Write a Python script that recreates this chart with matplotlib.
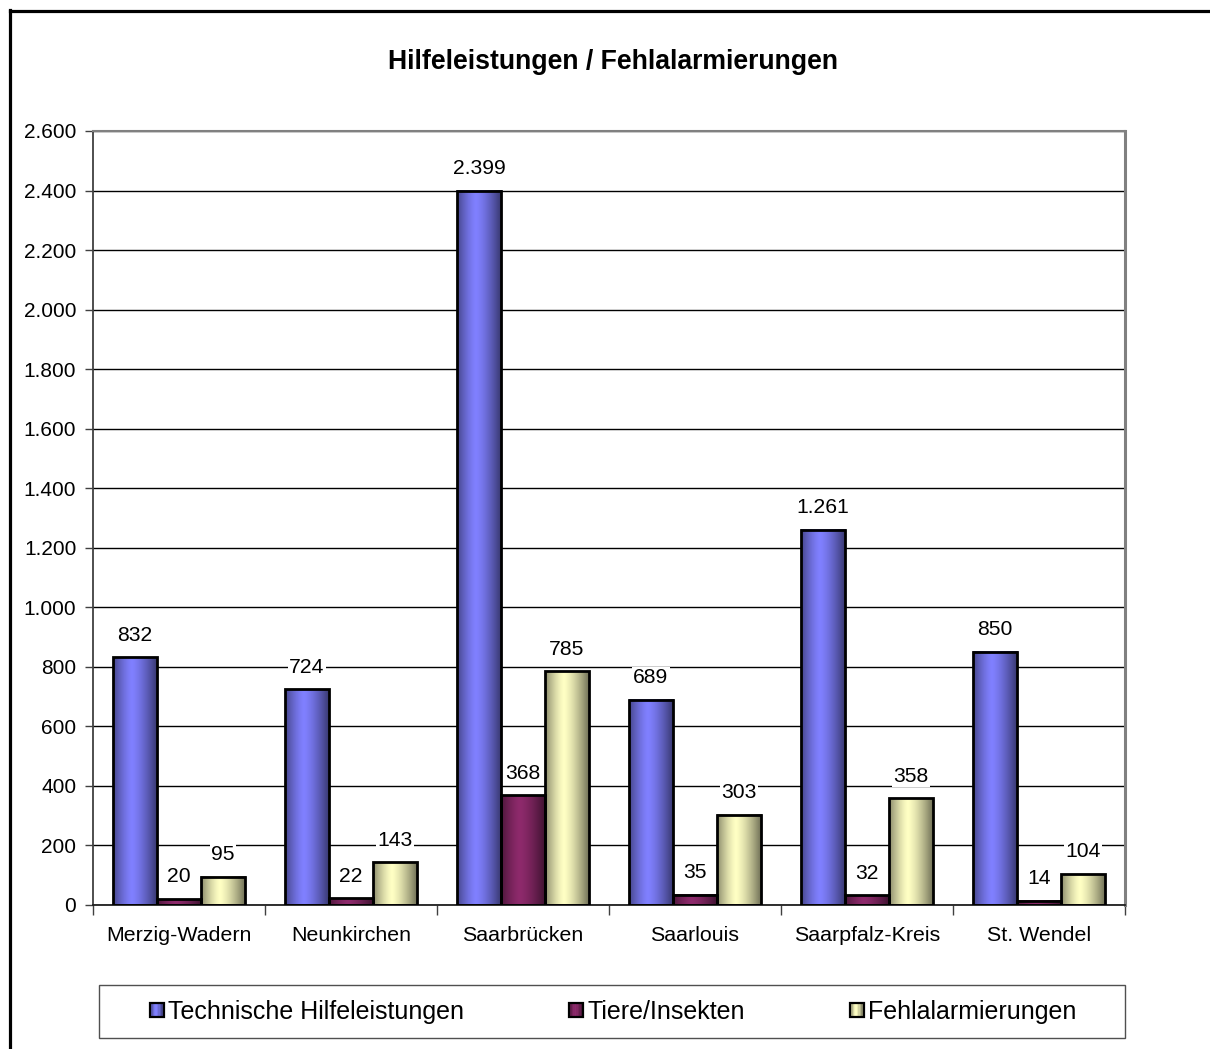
import numpy as np
import matplotlib
matplotlib.use("Agg")
import matplotlib.pyplot as plt
from matplotlib.patches import Rectangle, Patch
from matplotlib.lines import Line2D
from matplotlib.legend_handler import HandlerBase
from matplotlib.ticker import FuncFormatter

plt.rcParams['font.family'] = ['Liberation Sans', 'DejaVu Sans']

# ---- data -------------------------------------------------------------
districts = ['Merzig-Wadern', 'Neunkirchen', 'Saarbrücken', 'Saarlouis',
             'Saarpfalz-Kreis', 'St. Wendel']
technische = [832, 724, 2399, 689, 1261, 850]
tiere = [20, 22, 368, 35, 32, 14]
fehlalarm = [95, 143, 785, 303, 358, 104]
series_names = ['Technische Hilfeleistungen', 'Tiere/Insekten', 'Fehlalarmierungen']
series_colors = ['#8080FF', '#8E2A6C', '#FFFFC4']
y_ticks = list(range(0, 2601, 200))
title = 'Hilfeleistungen / Fehlalarmierungen'

series_values = [technische, tiere, fehlalarm]


def de_thousands(v, pos=None):
    return f'{int(v):,}'.replace(',', '.')


def shade_profile(n=64, peak=0.42, left_edge=0.55, right_edge=0.42):
    t = np.linspace(0, 1, n)
    f = np.empty(n)
    lm = t <= peak
    f[lm] = 1 - (1 - left_edge) * ((peak - t[lm]) / peak) ** 1.4
    f[~lm] = 1 - (1 - right_edge) * ((t[~lm] - peak) / (1 - peak)) ** 1.4
    return f


def gradient_strip(color):
    rgb = np.array(matplotlib.colors.to_rgb(color))
    f = shade_profile()
    return (f[:, None] * rgb[None, :])[None, :, :]


class GradientSquare(HandlerBase):
    def create_artists(self, legend, orig_handle, xdescent, ydescent,
                       width, height, fontsize, trans):
        s = min(width, height)
        x0 = -xdescent + (width - s) / 2
        y0 = -ydescent + (height - s) / 2
        rgb = np.array(matplotlib.colors.to_rgb(orig_handle.get_facecolor()))
        f = shade_profile(n=10)
        arts = []
        for i, fi in enumerate(f):
            r = Rectangle((x0 + i * s / len(f), y0), s / len(f) + 0.3, s,
                          facecolor=np.clip(fi * rgb, 0, 1), edgecolor='none',
                          transform=trans)
            arts.append(r)
        arts.append(Rectangle((x0, y0), s, s, facecolor='none',
                              edgecolor='black', lw=1.6, transform=trans))
        return arts


W, H = 1210, 1049
fig = plt.figure(figsize=(W / 100, H / 100), dpi=100)
fig.patch.set_facecolor('white')

ax = fig.add_axes([93 / W, 1 - 905 / H, (1125 - 93) / W, (905 - 131) / H])

n = len(districts)
x = np.arange(n)
bar_w = 0.256
offsets = [-bar_w, 0, bar_w]

for vals, off, col in zip(series_values, offsets, series_colors):
    bars = ax.bar(x + off, vals, width=bar_w, facecolor='none',
                  edgecolor='black', linewidth=2.0, zorder=3)
    strip = gradient_strip(col)
    for rect, v in zip(bars, vals):
        x0 = rect.get_x()
        ax.imshow(strip, extent=(x0, x0 + rect.get_width(), 0, v),
                  aspect='auto', interpolation='bilinear', zorder=2)
        ax.annotate(de_thousands(v), (rect.get_x() + rect.get_width() / 2, v),
                    xytext=(0, 16), textcoords='offset points',
                    ha='center', va='center', fontsize=15.2, color='black',
                    zorder=4,
                    bbox=dict(boxstyle='square,pad=0.05', fc='white', ec='none'))

ax.set_xlim(-0.5, n - 0.5)
ax.set_ylim(0, 2600)
ax.set_yticks(y_ticks)
ax.yaxis.set_major_formatter(FuncFormatter(de_thousands))
ax.set_xticks(x)
ax.set_xticklabels(districts)
ax.set_xticks(np.arange(-0.5, n, 1.0), minor=True)

ax.set_axisbelow(True)
ax.yaxis.grid(True, color='black', linewidth=1.0)
ax.xaxis.grid(False)

ax.tick_params(axis='x', which='major', length=0, pad=15, labelsize=15.4)
ax.tick_params(axis='x', which='minor', length=7, width=1.0, direction='out',
               color='#404040')
ax.tick_params(axis='y', which='major', length=6, width=1.0, direction='out',
               pad=6, labelsize=15, color='#404040')

ax.spines['left'].set_color('#404040')
ax.spines['left'].set_linewidth(1.3)
ax.spines['bottom'].set_color('#202020')
ax.spines['bottom'].set_linewidth(1.3)
ax.spines['top'].set_color('#808080')
ax.spines['top'].set_linewidth(1.5)
ax.spines['right'].set_color('#808080')
ax.spines['right'].set_linewidth(2.2)

fig.text(613 / W, 1 - 62 / H, title, ha='center', va='center',
         fontsize=19.2, fontweight='bold')

# legend frame and entries
fig.patches.append(Rectangle((99 / W, 1 - 1038 / H), (1125 - 99) / W, (1038 - 985) / H,
                             transform=fig.transFigure, facecolor='white',
                             edgecolor='#505050', linewidth=1.0, zorder=1))
handles = [Patch(facecolor=c, label=l) for c, l in zip(series_colors, series_names)]
fig.legend(handles=handles, loc='center', bbox_to_anchor=(613 / W, 1 - 1012 / H),
           ncol=3, frameon=False, fontsize=18, handlelength=0.58,
           handleheight=0.58, handletextpad=0.15, columnspacing=4.2,
           handler_map={Patch: GradientSquare()})

# outer frame (runs off the right and bottom edges)
fig.add_artist(Line2D([9.5 / W, 9.5 / W], [0, 1 - 9.5 / H], color='black',
                      linewidth=2.3, transform=fig.transFigure))
fig.add_artist(Line2D([9.5 / W, 1], [1 - 10.5 / H, 1 - 10.5 / H], color='black',
                      linewidth=2.3, transform=fig.transFigure))

fig.savefig('out.png', dpi=100)
